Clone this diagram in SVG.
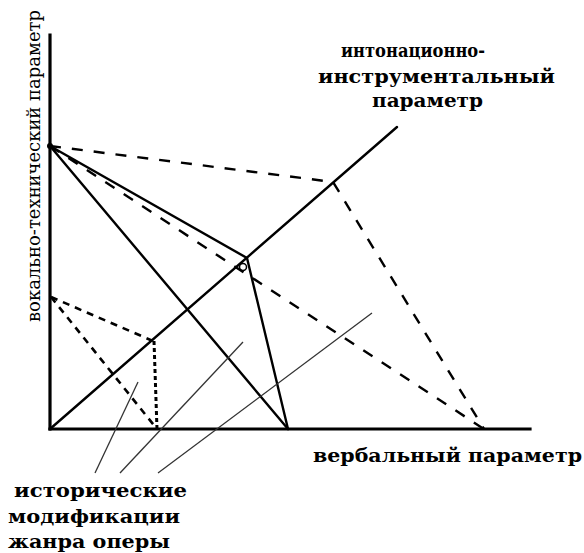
<svg xmlns="http://www.w3.org/2000/svg" width="584" height="553" viewBox="0 0 584 553">
<style>
.axis{stroke:#000;stroke-width:3.2;fill:none;stroke-linecap:square}
.solid{stroke:#000;stroke-width:2.4;fill:none;stroke-linecap:round}
.dash{stroke:#000;stroke-width:2.4;fill:none;stroke-dasharray:11 11}
.dash2{stroke:#000;stroke-width:2.6;fill:none;stroke-dasharray:7 6}
.dot{stroke:#000;stroke-width:3;fill:none;stroke-dasharray:4 3}
.lead{stroke:#333;stroke-width:1.3;fill:none}
.t{font-family:'DejaVu Serif','Liberation Serif',serif;font-weight:700;fill:#000;font-size:19px}
.v{font-family:'DejaVu Serif','Liberation Serif',serif;font-weight:400;fill:#000;font-size:19px}
</style>
<rect width="584" height="553" fill="#fff"/>
<g id="axes">
<line class="axis" x1="50" y1="35" x2="50" y2="429"/>
<line class="axis" x1="50" y1="429" x2="530" y2="429"/>
<line class="solid" x1="50" y1="429" x2="397" y2="127"/>
</g>
<g id="connectors">
<polyline class="dash" points="50,146 333,182 484,429"/>
<line class="dash" x1="50" y1="146" x2="484" y2="429"/>
<polyline class="solid" points="50,146 247,258 288,429"/>
<line class="solid" x1="50" y1="146" x2="288" y2="429"/>
<polyline class="dash2" points="51,297 153,341"/>
<line class="dot" x1="154" y1="341" x2="157" y2="429"/>
<line class="dash2" x1="51" y1="297" x2="157" y2="429"/>
<circle cx="243" cy="267" r="3.5" stroke="#000" stroke-width="1.5" fill="none"/>
<circle cx="50" cy="146" r="3" fill="#000"/>
<line class="lead" x1="95" y1="473" x2="138" y2="382"/>
<line class="lead" x1="120" y1="473" x2="243" y2="342"/>
<line class="lead" x1="158" y1="473" x2="372" y2="313"/>
</g>
<g id="labels">
<text class="v" transform="translate(40,322) rotate(-90)" textLength="312" lengthAdjust="spacingAndGlyphs">вокально-технический параметр</text>
<text class="t" x="341" y="57" textLength="144" lengthAdjust="spacingAndGlyphs">интонационно-</text>
<text class="t" x="318" y="83" textLength="237" lengthAdjust="spacingAndGlyphs">инструментальный</text>
<text class="t" x="372" y="107" textLength="111" lengthAdjust="spacingAndGlyphs">параметр</text>
<text class="t" x="313" y="462" textLength="269" lengthAdjust="spacingAndGlyphs">вербальный параметр</text>
<text class="t" x="14" y="497" textLength="173" lengthAdjust="spacingAndGlyphs">исторические</text>
<text class="t" x="8" y="523" textLength="172" lengthAdjust="spacingAndGlyphs">модификации</text>
<text class="t" x="8" y="548" textLength="162" lengthAdjust="spacingAndGlyphs">жанра оперы</text>
</g>
</svg>
